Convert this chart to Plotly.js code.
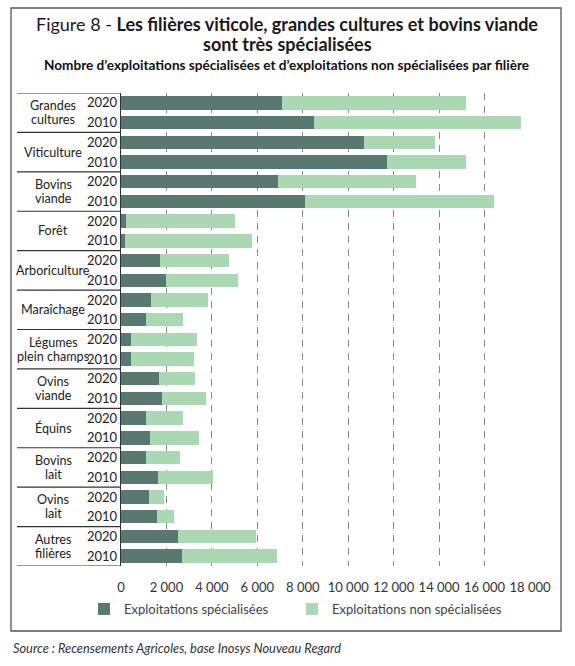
<!DOCTYPE html>
<html>
<head>
<meta charset="utf-8">
<script src="https://cdn.plot.ly/plotly-3.0.1.min.js"></script>
<style>html,body{margin:0;padding:0;background:#fff;}#chart{width:575px;height:666px;}</style>
</head>
<body>
<div id="chart"></div>
<script>
// ---- Data ----
const categories = ["Grandes<br>cultures", "Viticulture", "Bovins<br>viande", "Forêt", "Arboriculture", "Maraîchage", "Légumes<br>plein champs", "Ovins<br>viande", "Équins", "Bovins<br>lait", "Ovins<br>lait", "Autres<br>filières"];
const years = ["2020", "2010"];
const specialisees2020 = [7100, 10700, 6900, 230, 1700, 1330, 450, 1690, 1110, 1110, 1230, 2530];
const specialisees2010 = [8500, 11700, 8100, 160, 2000, 1080, 450, 1820, 1290, 1640, 1600, 2670];
const nonSpecialisees2020 = [8100, 3100, 6100, 4800, 3060, 2480, 2880, 1580, 1630, 1480, 645, 3400];
const nonSpecialisees2010 = [9100, 3500, 8300, 5600, 3140, 1670, 2770, 1930, 2150, 2390, 740, 4190];
const xTickVals = [0, 2000, 4000, 6000, 8000, 10000, 12000, 14000, 16000, 18000];
const xTickText = ["0", "2 000", "4 000", "6 000", "8 000", "10 000", "12 000", "14 000", "16 000", "18 000"];
const seriesNames = ["Exploitations spécialisées", "Exploitations non spécialisées"];
const titleLines = ["Figure 8 - <b>Les filières viticole, grandes cultures et bovins viande</b>", "<b>sont très spécialisées</b>"];
const subtitle = "<b>Nombre d’exploitations spécialisées et d’exploitations non spécialisées par filière</b>";
const sourceText = "<i>Source : Recensements Agricoles, base Inosys Nouveau Regard</i>";

// ---- Build rows ----
const yIdx = [], yLab = [], spec = [], nonSpec = [];
categories.forEach((c, i) => {
  const byYear = [[specialisees2020[i], nonSpecialisees2020[i]], [specialisees2010[i], nonSpecialisees2010[i]]];
  years.forEach((yr, j) => {
    yIdx.push(i * years.length + j);
    yLab.push(yr);
    spec.push(byYear[j][0]);
    nonSpec.push(byYear[j][1]);
  });
});

// ---- Layout helpers ----
const W = 575, H = 666;
const M = {l: 121, r: 45, t: 93, b: 100};
const PW = W - M.l - M.r, PH = H - M.t - M.b;
const px = x => (x - M.l) / PW;
const py = y => (H - M.b - y) / PH;
const FONT = "Lato, 'Open Sans', sans-serif";

const dark = "#587870", light = "#a9d8b3";

const traces = [
  {type: "bar", orientation: "h", name: seriesNames[0], y: yIdx, x: spec, legend: "legend",
   marker: {color: dark, line: {width: 0}}, hoverinfo: "x"},
  {type: "bar", orientation: "h", name: seriesNames[1], y: yIdx, x: nonSpec, legend: "legend2",
   marker: {color: light, line: {width: 0}}, hoverinfo: "x"}
];

const shapes = [];
// outer frame
shapes.push({type: "rect", xref: "paper", yref: "paper", x0: px(11), x1: px(561), y0: py(631), y1: py(8),
  line: {color: "#555", width: 1.3}, layer: "below"});
// label box separators
for (let g = 0; g <= categories.length; g++) {
  const yv = g * years.length - 0.5;
  shapes.push({type: "line", xref: "paper", yref: "y", x0: px(17), x1: px(121), y0: yv, y1: yv,
    line: {color: "#333", width: 1.2}});
}

const annotations = [];
categories.forEach((c, i) => {
  const lines = c.split("<br>");
  const lh = 14.2;
  lines.forEach((t, k) => {
    annotations.push({xref: "paper", yref: "y", x: px(53), y: i * years.length + 0.5,
      yshift: -((k - (lines.length - 1) / 2) * lh), text: t, showarrow: false,
      xanchor: "center", yanchor: "middle", font: {family: FONT, size: 12.6, color: "#222"}});
  });
});
// title lines
[24, 44].forEach((yy, k) => {
  annotations.push({xref: "paper", yref: "paper", x: px(287), y: py(yy), xanchor: "center", yanchor: "middle",
    showarrow: false, text: titleLines[k], font: {family: FONT, size: 18, color: "#1a1a1a"}});
});
// subtitle
annotations.push({xref: "paper", yref: "paper", x: px(286), y: py(65), xanchor: "center", yanchor: "middle",
  showarrow: false, text: subtitle, font: {family: FONT, size: 13.6, color: "#111"}});
// source
annotations.push({xref: "paper", yref: "paper", x: px(11), y: py(648), xanchor: "left", yanchor: "middle",
  showarrow: false, text: sourceText, font: {family: FONT, size: 12.8, color: "#333"}});

const legendBase = {orientation: "h", xanchor: "left", yanchor: "middle", y: py(609),
  font: {family: FONT, size: 13, color: "#444"}, bgcolor: "rgba(0,0,0,0)"};

const layout = {
  width: W, height: H,
  margin: M,
  paper_bgcolor: "#fff", plot_bgcolor: "#fff",
  barmode: "stack", bargap: 0.32,
  showlegend: true,
  xaxis: {range: [0, 18000], tickvals: xTickVals, ticktext: xTickText, tickangle: 0,
    showgrid: true, gridcolor: "#8a8a8a", gridwidth: 1.2, griddash: "7px,6px",
    zeroline: false, showline: false, ticks: "", ticklabelstandoff: 12,
    tickfont: {family: FONT, size: 13, color: "#333"}, fixedrange: true},
  yaxis: {range: [yIdx.length - 0.5, -0.5], tickvals: yIdx, ticktext: yLab, showgrid: false,
    zeroline: false, showline: true, linecolor: "#333", linewidth: 1.3, ticks: "",
    tickfont: {family: FONT, size: 13, color: "#222"}, fixedrange: true},
  legend: Object.assign({}, legendBase, {x: px(84)}),
  legend2: Object.assign({}, legendBase, {x: px(292)}),
  shapes: shapes,
  annotations: annotations
};

Plotly.newPlot("chart", traces, layout, {displayModeBar: false, staticPlot: true});
</script>
</body>
</html>
